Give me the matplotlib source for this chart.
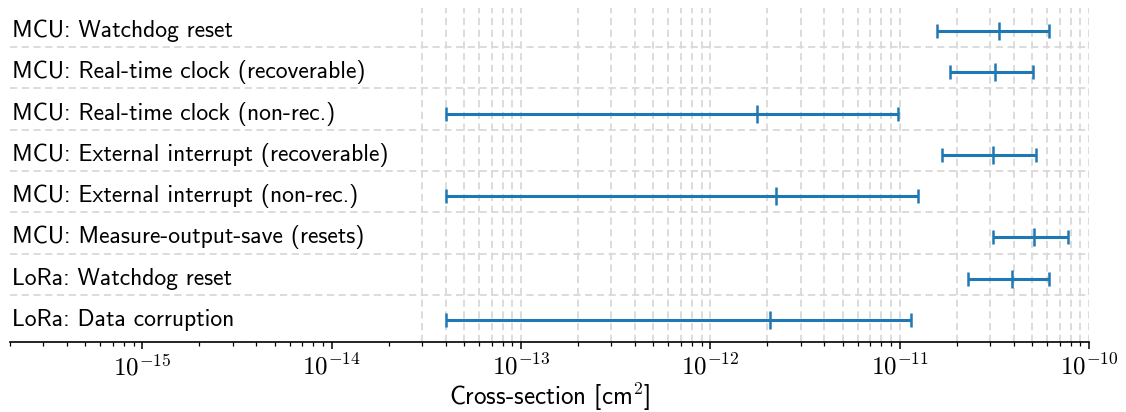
import numpy as np
import matplotlib
matplotlib.use("Agg")
import matplotlib.pyplot as plt
from matplotlib.ticker import FuncFormatter

plt.rcParams['mathtext.fontset'] = 'cm'
plt.rcParams['font.family'] = ['cmss10', 'DejaVu Sans']
plt.rcParams['axes.unicode_minus'] = True

# Data (cross-section in cm^2): lower bound, estimate, upper bound
labels = [
    "MCU: Watchdog reset",
    "MCU: Real-time clock (recoverable)",
    "MCU: Real-time clock (non-rec.)",
    "MCU: External interrupt (recoverable)",
    "MCU: External interrupt (non-rec.)",
    "MCU: Measure-output-save (resets)",
    "LoRa: Watchdog reset",
    "LoRa: Data corruption",
]
lower = [1.57e-11, 1.84e-11, 4.0e-14, 1.67e-11, 4.0e-14, 3.12e-11, 2.30e-11, 4.0e-14]
center = [3.34e-11, 3.19e-11, 1.77e-12, 3.11e-11, 2.21e-12, 5.10e-11, 3.92e-11, 2.06e-12]
upper = [6.14e-11, 5.04e-11, 9.83e-12, 5.25e-11, 1.245e-11, 7.77e-11, 6.14e-11, 1.15e-11]

center = np.array(center)
xerr = np.array([center - np.array(lower), np.array(upper) - center])
y = np.arange(len(labels))

fig = plt.figure(figsize=(11.26, 4.12), dpi=100)
ax = fig.add_axes([10 / 1126, 1 - 341.7 / 412, 1079 / 1126, 333.7 / 412])

ax.set_xscale('log')
ax.set_xlim(2e-16, 1e-10)
ax.set_ylim(7.525, -0.557)

# grid: vertical lines only from 3e-14 upward, horizontal between rows
grid_kw = dict(color='#d9d9d9', lw=1.3, ls=(0, (4, 2.5)), zorder=0)
for dec in range(-14, -10):
    for m in range(1, 10):
        v = m * 10.0 ** dec
        if v >= 3e-14:
            ax.axvline(v, **grid_kw)
ax.axvline(1e-10, **grid_kw)
for i in range(len(labels) - 1):
    ax.axhline(i + 0.39, **grid_kw)

color = '#1f77b4'
ax.errorbar(center, y, xerr=xerr, fmt='|', color=color, ecolor=color,
            elinewidth=2.2, capsize=5, capthick=1.8, markersize=13,
            markeredgewidth=1.8, zorder=3)

for yi, lab in zip(y, labels):
    ax.text(0.0015, yi, lab, transform=ax.get_yaxis_transform(),
            ha='left', va='center', fontsize=17, zorder=4)

for s in ['top', 'right', 'left']:
    ax.spines[s].set_visible(False)
ax.spines['bottom'].set_linewidth(1.2)
ax.set_yticks([])
ax.xaxis.set_major_formatter(FuncFormatter(lambda v, p: r"$10^{%d}$" % round(np.log10(v))))
ax.tick_params(axis='x', which='major', length=5, width=1.1, labelsize=18, pad=4)
ax.tick_params(axis='x', which='minor', length=3, width=0.9)
ax.set_xlabel(r"Cross-section [cm$^{\mathsf{2}}$]", fontsize=18, labelpad=1)

fig.savefig("out.png", dpi=100)
